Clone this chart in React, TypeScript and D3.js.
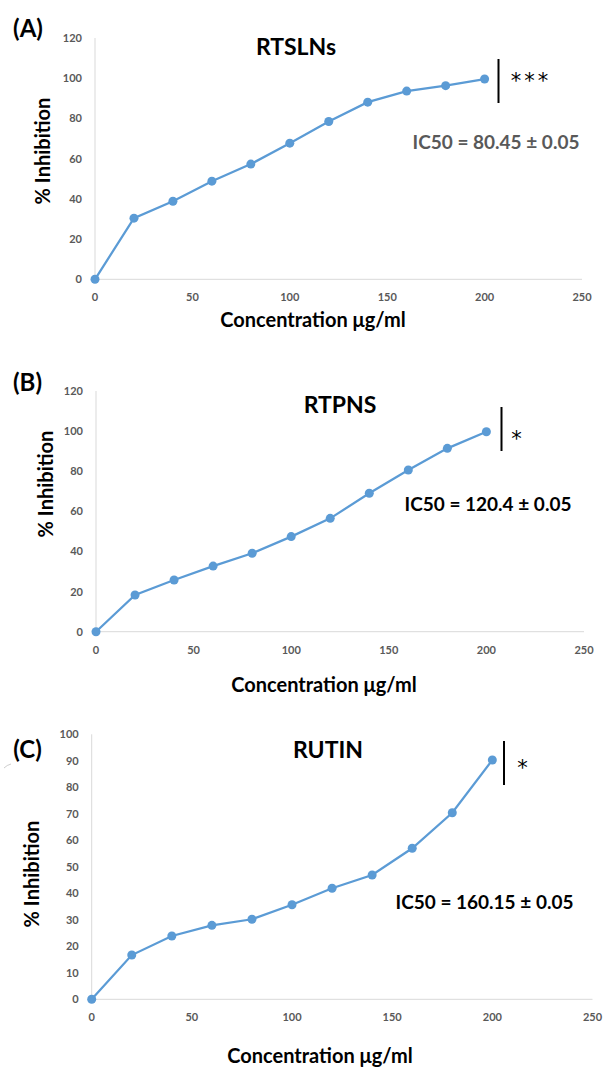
import React, { useRef, useEffect } from "react";
import * as d3 from "d3";

// concentrations (µg/ml)
const concentrations = [0, 20, 40, 60, 80, 100, 120, 140, 160, 180, 200];
const rtslnsValues = [0, 30.4, 38.8, 48.8, 57.3, 67.7, 78.5, 88.1, 93.6, 96.3, 99.6];
const rtpnsValues = [0, 18.3, 25.8, 32.7, 39.1, 47.4, 56.5, 69.0, 80.6, 91.4, 99.7];
const rutinValues = [0, 16.7, 23.9, 27.9, 30.2, 35.7, 41.9, 46.9, 57.0, 70.4, 90.3];

const xTicks = [0, 50, 100, 150, 200, 250];
const yTicksAB = [0, 20, 40, 60, 80, 100, 120];
const yTicksC = [0, 10, 20, 30, 40, 50, 60, 70, 80, 90, 100];

const panelLetters = ["(A)", "(B)", "(C)"];
const panelTitles = ["RTSLNs", "RTPNS", "RUTIN"];
const ic50Labels = ["IC50 = 80.45 ± 0.05", "IC50 = 120.4 ± 0.05", "IC50 = 160.15 ± 0.05"];
const significance = ["***", "*", "*"];

const FONT = "Lato, 'Open Sans', sans-serif";
const BLUE = "#5B9BD5";

// layout of each panel in page pixels
const panels = [
  {
    values: rtslnsValues, yTicks: yTicksAB, yMax: 120,
    x0: 95, x1: 582, yBottom: 279.3, yTop: 38,
    letter: { x: 28, y: 37 }, title: { x: 296, y: 55 },
    ic50: { x: 496, y: 149, color: "#595959" },
    bar: { x: 498.5, y1: 59, y2: 103 }, star: { x: 531, y: 88, size: 21 },
    yLabel: { x: 43, y: 151 }, xLabel: { x: 313, y: 327 },
  },
  {
    values: rtpnsValues, yTicks: yTicksAB, yMax: 120,
    x0: 96, x1: 584, yBottom: 631.7, yTop: 391,
    letter: { x: 27.5, y: 391 }, title: { x: 340, y: 413 },
    ic50: { x: 488, y: 511, color: "#000" },
    bar: { x: 501.5, y1: 407, y2: 451 }, star: { x: 518, y: 446, size: 21 },
    yLabel: { x: 45.5, y: 484 }, xLabel: { x: 324, y: 692 },
  },
  {
    values: rutinValues, yTicks: yTicksC, yMax: 100,
    x0: 91.7, x1: 592.5, yBottom: 999.3, yTop: 734.3,
    letter: { x: 27.5, y: 758 }, title: { x: 328, y: 758 },
    ic50: { x: 484.5, y: 909, color: "#000" },
    bar: { x: 504, y1: 741, y2: 785 }, star: { x: 524, y: 775, size: 21 },
    yLabel: { x: 31.5, y: 874 }, xLabel: { x: 320, y: 1063 },
  },
];

const App = () => {
  const ref = useRef(null);

  useEffect(() => {
    const svg = d3.select(ref.current);
    svg.selectAll("*").remove();

    panels.forEach((p, i) => {
      const x = d3.scaleLinear().domain([0, 250]).range([p.x0, p.x1]);
      const y = d3.scaleLinear().domain([0, p.yMax]).range([p.yBottom, p.yTop]);
      const g = svg.append("g");

      // axis lines
      g.append("line")
        .attr("x1", x(0)).attr("x2", x(250))
        .attr("y1", y(0)).attr("y2", y(0))
        .attr("stroke", "#D9D9D9").attr("stroke-width", 1);
      g.append("line")
        .attr("x1", x(0)).attr("x2", x(0))
        .attr("y1", y(0)).attr("y2", y(p.yMax))
        .attr("stroke", "#D9D9D9").attr("stroke-width", 1);

      // tick labels
      g.selectAll(".xt")
        .data(xTicks)
        .enter()
        .append("text")
        .attr("x", (d) => x(d))
        .attr("y", y(0) + 22)
        .attr("text-anchor", "middle")
        .attr("font-family", FONT)
        .attr("font-weight", "bold")
        .attr("font-size", 11)
        .attr("fill", "#595959")
        .text((d) => d);
      g.selectAll(".yt")
        .data(p.yTicks)
        .enter()
        .append("text")
        .attr("x", x(0) - 13)
        .attr("y", (d) => y(d) + 4)
        .attr("text-anchor", "end")
        .attr("font-family", FONT)
        .attr("font-weight", "bold")
        .attr("font-size", 11)
        .attr("fill", "#595959")
        .text((d) => d);

      // series
      const pts = concentrations.map((c, j) => [c, p.values[j]]);
      const line = d3.line().x((d) => x(d[0])).y((d) => y(d[1]));
      g.append("path")
        .attr("d", line(pts))
        .attr("fill", "none")
        .attr("stroke", BLUE)
        .attr("stroke-width", 2.25);
      g.selectAll(".pt")
        .data(pts)
        .enter()
        .append("circle")
        .attr("cx", (d) => x(d[0]))
        .attr("cy", (d) => y(d[1]))
        .attr("r", 4.5)
        .attr("fill", BLUE);

      // labels
      const txt = (tx, ty, s, size, fill = "#000", anchor = "middle") =>
        g.append("text")
          .attr("x", tx).attr("y", ty)
          .attr("text-anchor", anchor)
          .attr("font-family", FONT)
          .attr("font-weight", "bold")
          .attr("font-size", size)
          .attr("fill", fill)
          .text(s);

      txt(p.letter.x, p.letter.y, panelLetters[i], 24);
      txt(p.title.x, p.title.y, panelTitles[i], 23);
      txt(p.ic50.x, p.ic50.y, ic50Labels[i], 19, p.ic50.color);
      txt(p.xLabel.x, p.xLabel.y, "Concentration μg/ml", 20);
      g.append("text")
        .attr("transform", `translate(${p.yLabel.x},${p.yLabel.y}) rotate(-90)`)
        .attr("text-anchor", "middle")
        .attr("dy", "0.35em")
        .attr("font-family", FONT)
        .attr("font-weight", "bold")
        .attr("font-size", 20)
        .attr("fill", "#000")
        .text("% Inhibition");

      // significance marker
      g.append("line")
        .attr("x1", p.bar.x).attr("x2", p.bar.x)
        .attr("y1", p.bar.y1).attr("y2", p.bar.y2)
        .attr("stroke", "#000").attr("stroke-width", 2);
      g.append("text")
        .attr("x", p.star.x).attr("y", p.star.y)
        .attr("text-anchor", "middle")
        .attr("font-family", "'DejaVu Sans', sans-serif")
        .attr("font-size", p.star.size)
        .attr("letter-spacing", 3)
        .attr("fill", "#000")
        .text(significance[i]);
    });

    // small stray mark near (C)
    svg.append("path")
      .attr("d", "M4,768 Q7,765 11,764")
      .attr("fill", "none")
      .attr("stroke", "#BFBFBF")
      .attr("stroke-width", 0.8);
  }, []);

  return (
    <svg
      ref={ref}
      width={603}
      height={1067}
      style={{ position: "absolute", left: 0, top: 0, background: "#fff" }}
    />
  );
};

export default App;
